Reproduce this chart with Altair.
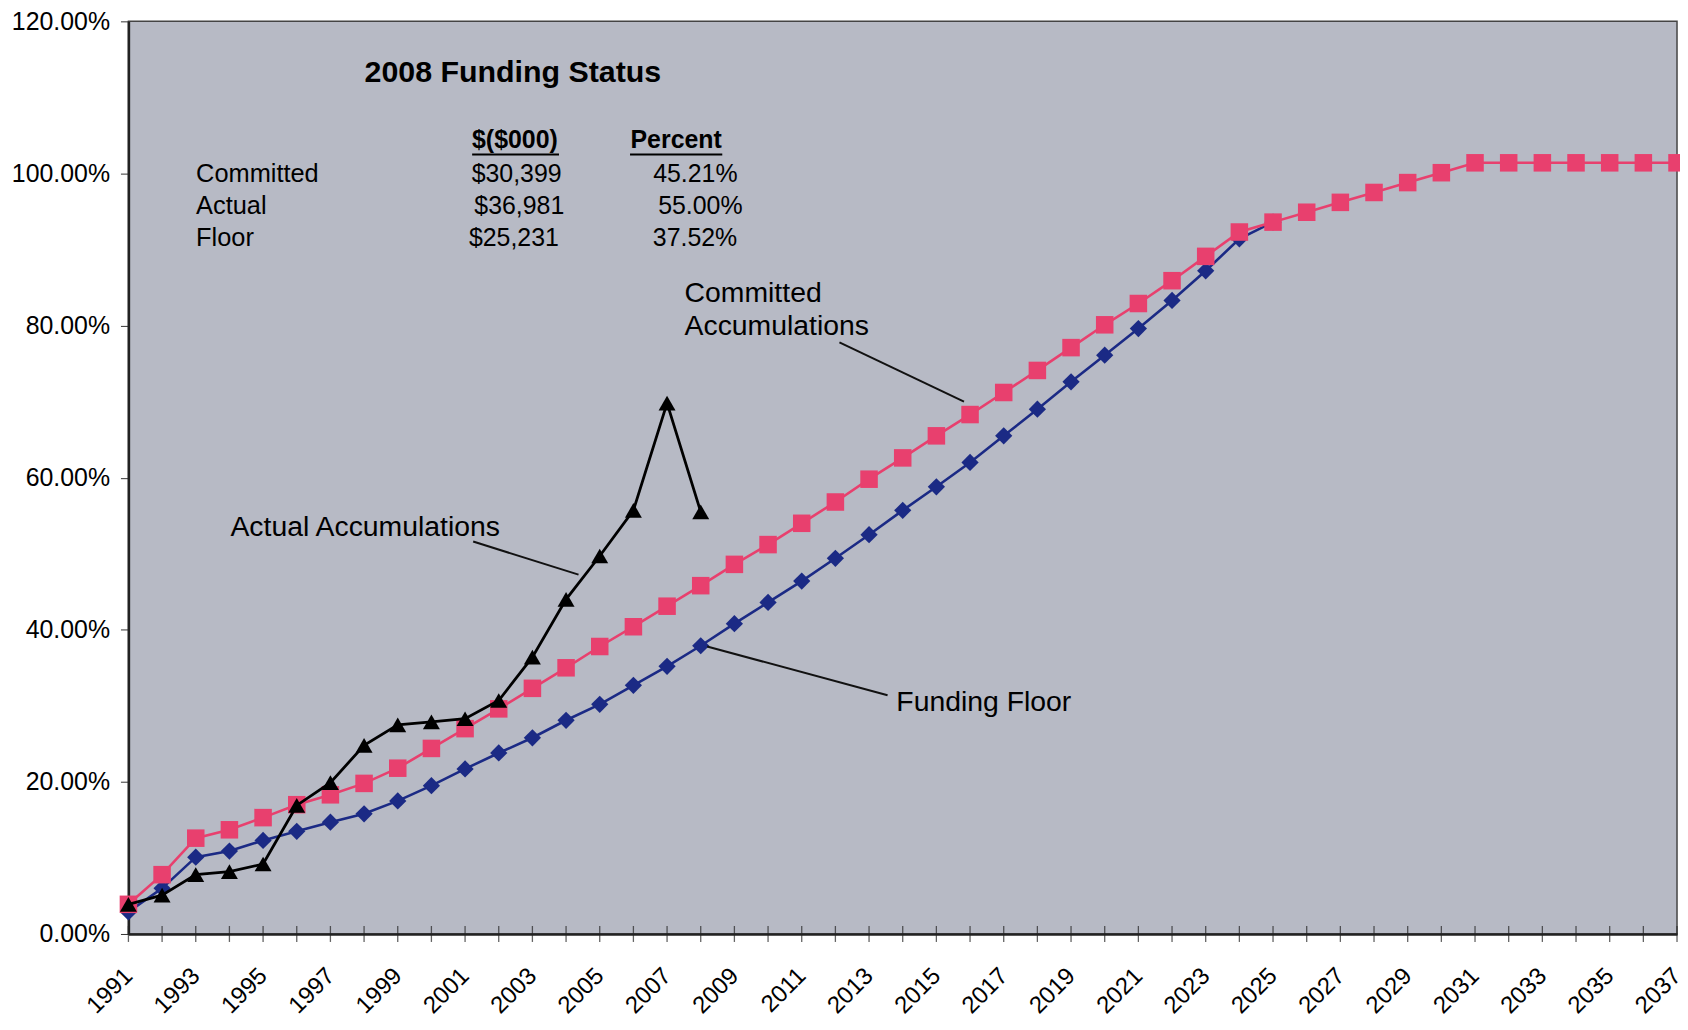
import altair as alt
import pandas as pd

# ---------------- data ----------------
years = list(range(1991, 2038))

committed = [3.9, 7.8, 12.6, 13.7, 15.3, 17.0, 18.3, 19.8, 21.8, 24.4,
             27.0, 29.6, 32.3, 35.0, 37.8, 40.4, 43.1, 45.8, 48.6, 51.2,
             54.0, 56.8, 59.8, 62.6, 65.5, 68.3, 71.2, 74.1, 77.1, 80.1,
             82.9, 85.9, 89.1, 92.3, 93.6, 94.9, 96.2, 97.5, 98.8, 100.1,
             101.4, 101.4, 101.4, 101.4, 101.4, 101.4, 101.4]

floor_years = list(range(1991, 2026))
floor = [2.9, 6.0, 10.1, 10.9, 12.3, 13.5, 14.7, 15.8, 17.5, 19.5,
         21.7, 23.8, 25.8, 28.1, 30.2, 32.7, 35.2, 37.9, 40.8, 43.6,
         46.4, 49.4, 52.5, 55.7, 58.8, 62.0, 65.5, 69.0, 72.6, 76.1,
         79.6, 83.3, 87.2, 91.4, 93.6]

actual_years = list(range(1991, 2009))
actual = [3.9, 5.1, 7.8, 8.2, 9.2, 16.9, 19.9, 24.8, 27.5, 27.9,
          28.3, 30.7, 36.4, 44.0, 49.7, 55.7, 69.8, 55.5]

y_ticks = [0, 20, 40, 60, 80, 100, 120]

# Funding status table
table_title = "2008 Funding Status"
table_headers = ["$($000)", "Percent"]
table_rows = ["Committed", "Actual", "Floor"]
table_dollars = ["$30,399", "$36,981", "$25,231"]
table_percents = ["45.21%", "55.00%", "37.52%"]

# Callout labels
callout_texts = ["Committed", "Accumulations", "Actual Accumulations", "Funding Floor"]

# ---------------- styling ----------------
FONT = "Liberation Sans"
PINK = "#e8406e"
NAVY = "#1b2a85"
BLACK = "#000000"
BG = "#b7bac5"

x_enc = alt.X(
    "year:Q",
    title=None,
    scale=alt.Scale(domain=[1991, 2037], nice=False, zero=False),
    axis=alt.Axis(
        values=years, format="d",
        labelExpr="datum.value % 2 == 1 ? datum.label : ''",
        labelAngle=-45, labelAlign="right", labelBaseline="middle",
        labelOverlap=False, labelFlush=False, labelPadding=38,
        labelFontSize=24, labelFont=FONT, labelColor="#000",
        ticks=False, tickSize=0,
        domainColor="#222", domainWidth=2.5, grid=False,
    ),
)
y_enc = alt.Y(
    "pct:Q",
    title=None,
    scale=alt.Scale(domain=[0, 120], nice=False, zero=True),
    axis=alt.Axis(
        values=y_ticks,
        labelExpr="format(datum.value, '.2f') + '%'",
        labelFontSize=25, labelFont=FONT, labelColor="#000", labelPadding=11,
        tickSize=8, tickColor="#333", tickWidth=1,
        domainColor="#222", domainWidth=2.5, grid=False,
    ),
)

df_comm = pd.DataFrame({"year": years, "pct": committed})
df_floor = pd.DataFrame({"year": floor_years, "pct": floor})
df_act = pd.DataFrame({"year": actual_years, "pct": actual})
df_xticks = pd.DataFrame({"year": years, "pct": [0] * len(years)})

floor_layer = alt.Chart(df_floor).mark_line(
    color=NAVY, strokeWidth=2.6,
    point=alt.OverlayMarkDef(shape="diamond", size=300, filled=True, color=NAVY),
).encode(x=x_enc, y=y_enc)

# x-axis tick marks that cross the axis line (as in the reference)
xtick_layer = alt.Chart(df_xticks).mark_tick(
    orient="vertical", size=16, thickness=1.3, color="#222"
).encode(x="year:Q", y="pct:Q")

comm_layer = alt.Chart(df_comm).mark_line(
    color=PINK, strokeWidth=2.6,
    point=alt.OverlayMarkDef(shape="square", size=310, filled=True, color=PINK),
).encode(x="year:Q", y="pct:Q")

act_layer = alt.Chart(df_act).mark_line(
    color=BLACK, strokeWidth=2.8,
    point=alt.OverlayMarkDef(shape="triangle-up", size=290, filled=True, color=BLACK),
).encode(x="year:Q", y="pct:Q")

# ---------------- annotations ----------------
title_df = pd.DataFrame({"year": [2002.42], "pct": [113.2], "label": [table_title]})
title_layer = alt.Chart(title_df).mark_text(
    font=FONT, fontSize=30.5, fontWeight="bold", align="center", baseline="middle", color="#000"
).encode(x="year:Q", y="pct:Q", text="label:N")

head_df = pd.DataFrame({"year": [2002.48, 2007.27], "pct": [104.4, 104.4], "label": table_headers})
head_layer = alt.Chart(head_df).mark_text(
    font=FONT, fontSize=25, fontWeight="bold", align="center", baseline="middle", color="#000"
).encode(x="year:Q", y="pct:Q", text="label:N")

uline_df = pd.DataFrame({"year": [2001.21, 2005.90], "year2": [2003.79, 2008.64],
                         "pct": [102.5, 102.5], "pct2": [102.5, 102.5]})
uline_layer = alt.Chart(uline_df).mark_rule(color="#000", strokeWidth=2).encode(
    x="year:Q", x2="year2:Q", y="pct:Q", y2="pct2:Q")

row_y = [99.9, 95.75, 91.55]
rows_df = pd.DataFrame({"year": [1993.01] * 3, "pct": row_y, "label": table_rows})
rows_layer = alt.Chart(rows_df).mark_text(
    font=FONT, fontSize=25.5, align="left", baseline="middle", color="#000"
).encode(x="year:Q", y="pct:Q", text="label:N")

dol_df = pd.DataFrame({"year": [2002.53, 2002.61, 2002.45], "pct": row_y, "label": table_dollars})
dol_layer = alt.Chart(dol_df).mark_text(
    font=FONT, fontSize=25, align="center", baseline="middle", color="#000"
).encode(x="year:Q", y="pct:Q", text="label:N")

per_df = pd.DataFrame({"year": [2007.84, 2007.99, 2007.83], "pct": row_y, "label": table_percents})
per_layer = alt.Chart(per_df).mark_text(
    font=FONT, fontSize=25, align="center", baseline="middle", color="#000"
).encode(x="year:Q", y="pct:Q", text="label:N")

call_df = pd.DataFrame({"year": [2007.52, 2007.52, 1994.03, 2013.81],
                        "pct": [84.3, 80.0, 53.5, 30.5], "label": callout_texts})
call_layer = alt.Chart(call_df).mark_text(
    font=FONT, fontSize=28.5, align="left", baseline="middle", color="#000"
).encode(x="year:Q", y="pct:Q", text="label:N")

lead_df = pd.DataFrame({"year": [2012.12, 2001.24, 2008.19],
                        "year2": [2015.82, 2004.37, 2013.55],
                        "pct": [77.8, 51.6, 37.8],
                        "pct2": [70.0, 47.25, 31.4]})
lead_layer = alt.Chart(lead_df).mark_rule(color="#111", strokeWidth=2).encode(
    x="year:Q", x2="year2:Q", y="pct:Q", y2="pct2:Q")

chart = alt.layer(
    floor_layer, xtick_layer, comm_layer, act_layer,
    lead_layer, title_layer, head_layer, uline_layer,
    rows_layer, dol_layer, per_layer, call_layer,
).properties(
    width=1556, height=917,
    autosize=alt.AutoSizeParams(type="none"),
    padding={"left": 121, "top": 11, "right": 3, "bottom": 82},
    background="#ffffff",
).configure_view(
    fill=BG, stroke="#444", strokeWidth=1.5,
)

chart.save("out.html", embed_options={"renderer": "svg", "actions": False})
